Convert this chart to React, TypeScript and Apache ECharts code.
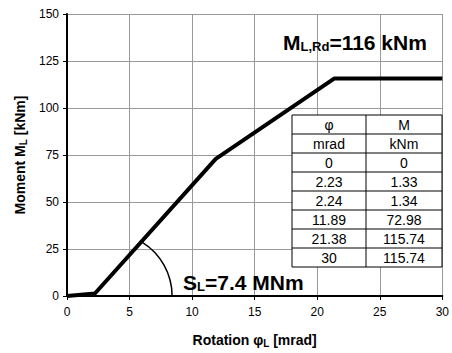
import React, { useEffect, useRef } from "react";
import * as echarts from "echarts";

const phi = [0, 2.23, 2.24, 11.89, 21.38, 30];
const moment = [0, 1.33, 1.34, 72.98, 115.74, 115.74];
const phiLabels = ["0", "2.23", "2.24", "11.89", "21.38", "30"];
const momentLabels = ["0", "1.33", "1.34", "72.98", "115.74", "115.74"];
const tableHeader = [
  ["φ", "M"],
  ["mrad", "kNm"],
];
const xTitle = "Rotation φ{sub|L} [mrad]";
const yTitle = "Moment M{sub|L} [kNm]";
const resistanceText = "M{sub|L,Rd}=116 kNm";
const stiffnessText = "S{sub|L}=7.4 MNm";

const FONT = "'Liberation Sans', Arial, sans-serif";

export default function App() {
  const ref = useRef<HTMLDivElement>(null);
  useEffect(() => {
    const chart = echarts.init(ref.current!, null, { renderer: "svg" });
    const subStyle = { fontSize: 10, fontWeight: "bold", fontFamily: FONT, color: "#000", padding: [6, 0, 0, 0] };
    chart.setOption({
      animation: false,
      backgroundColor: "#fff",
      grid: { left: 67, right: 6, top: 14, bottom: 56, containLabel: false },
      xAxis: {
        type: "value",
        min: 0,
        max: 30,
        interval: 5,
        name: xTitle,
        nameLocation: "middle",
        nameGap: 36,
        nameTextStyle: { fontSize: 14, fontWeight: "bold", fontFamily: FONT, color: "#000", rich: { sub: subStyle } },
        axisLine: { show: true, onZero: false, lineStyle: { color: "#000", width: 2 } },
        axisTick: { show: true, inside: false, length: 4, lineStyle: { color: "#000", width: 1 } },
        axisLabel: { fontSize: 12, fontFamily: FONT, color: "#000", margin: 10 },
        splitLine: { show: true, lineStyle: { color: "#999", width: 1 } },
      },
      yAxis: {
        type: "value",
        min: 0,
        max: 150,
        interval: 25,
        name: yTitle,
        nameLocation: "middle",
        nameGap: 37,
        nameTextStyle: { fontSize: 14, fontWeight: "bold", fontFamily: FONT, color: "#000", rich: { sub: subStyle } },
        axisLine: { show: true, onZero: false, lineStyle: { color: "#000", width: 2 } },
        axisTick: { show: true, inside: false, length: 4, lineStyle: { color: "#000", width: 1 } },
        axisLabel: { fontSize: 12, fontFamily: FONT, color: "#000", margin: 8 },
        splitLine: { show: true, lineStyle: { color: "#999", width: 1 } },
      },
      series: [
        {
          type: "line",
          data: phi.map((p, i) => [p, moment[i]]),
          symbol: "none",
          lineStyle: { color: "#000", width: 4 },
          z: 5,
        },
      ],
    });

    const c = chart.convertToPixel({ gridIndex: 0 }, [3.35, 0]) as number[];
    const e = chart.convertToPixel({ gridIndex: 0 }, [8.4, 0]) as number[];
    const r = e[0] - c[0];

    const tLeft = 292;
    const tTop = 115;
    const colW = [74, 76];
    const rowH = 19;
    const rows = [...tableHeader, ...phiLabels.map((p, i) => [p, momentLabels[i]])];
    const tW = colW[0] + colW[1];
    const tH = rowH * rows.length;
    const els: any[] = [];
    els.push({
      type: "rect",
      shape: { x: tLeft, y: tTop, width: tW, height: tH },
      style: { fill: "#fff", stroke: "#000", lineWidth: 1 },
      z: 100,
    });
    for (let i = 1; i < rows.length; i++) {
      els.push({
        type: "line",
        shape: { x1: tLeft, y1: tTop + i * rowH, x2: tLeft + tW, y2: tTop + i * rowH },
        style: { stroke: "#000", lineWidth: 1 },
        z: 101,
      });
    }
    els.push({
      type: "line",
      shape: { x1: tLeft + colW[0], y1: tTop, x2: tLeft + colW[0], y2: tTop + tH },
      style: { stroke: "#000", lineWidth: 1 },
      z: 101,
    });
    rows.forEach((row, i) => {
      row.forEach((txt, j) => {
        const cx = tLeft + (j === 0 ? colW[0] / 2 : colW[0] + colW[1] / 2);
        els.push({
          type: "text",
          z: 102,
          style: {
            text: txt,
            x: cx,
            y: tTop + i * rowH + rowH / 2 + 0.5,
            align: "center",
            verticalAlign: "middle",
            fontSize: 14,
            fontFamily: FONT,
            fill: "#000",
          },
        });
      });
    });
    els.push({
      type: "arc",
      z: 50,
      shape: { cx: c[0], cy: c[1], r, startAngle: (-58 * Math.PI) / 180, endAngle: 0, clockwise: true },
      style: { stroke: "#000", lineWidth: 1.5, fill: "none" },
    });
    const bigSub = { fontSize: 13, fontWeight: "bold", fontFamily: FONT, fill: "#000", padding: [8, 0, 0, 0] };
    els.push({
      type: "text",
      z: 102,
      style: {
        text: resistanceText,
        x: 283,
        y: 42,
        align: "left",
        verticalAlign: "middle",
        fontSize: 21,
        fontWeight: "bold",
        fontFamily: FONT,
        fill: "#000",
        rich: { sub: bigSub },
      },
    });
    els.push({
      type: "text",
      z: 102,
      style: {
        text: stiffnessText,
        x: 183,
        y: 282,
        align: "left",
        verticalAlign: "middle",
        fontSize: 21,
        fontWeight: "bold",
        fontFamily: FONT,
        fill: "#000",
        rich: { sub: bigSub },
      },
    });
    chart.setOption({ graphic: els });
    return () => chart.dispose();
  }, []);
  return <div ref={ref} style={{ position: "fixed", left: 0, top: 0, width: 452, height: 353 }} />;
}
